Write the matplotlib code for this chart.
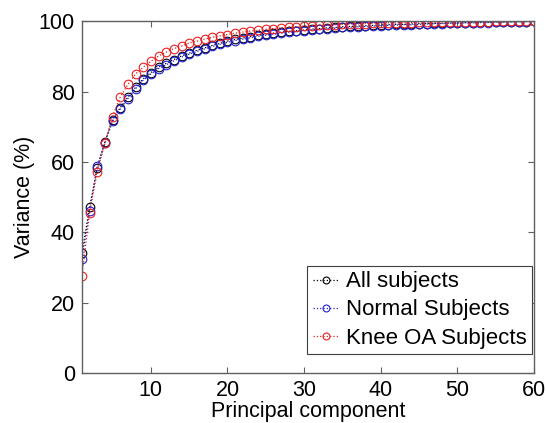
import matplotlib
matplotlib.use("Agg")
import matplotlib.pyplot as plt
import numpy as np

## 主成分编号
components = list(range(1, 61))

## 累计方差 (%)
all_subjects = [34.0, 47.1, 58.3, 65.6, 72.0, 75.4, 78.4, 81.2, 83.6, 85.4,
                86.9, 88.0, 89.1, 90.1, 90.9, 91.7, 92.4, 93.1, 93.7, 94.3,
                94.8, 95.2, 95.6, 96.0, 96.3, 96.6, 96.9, 97.1, 97.3, 97.5,
                97.7, 97.9, 98.1, 98.2, 98.4, 98.5, 98.6, 98.7, 98.8, 98.9,
                99.0, 99.1, 99.1, 99.2, 99.3, 99.3, 99.4, 99.4, 99.5, 99.5,
                99.6, 99.6, 99.7, 99.7, 99.8, 99.8, 99.8, 99.9, 99.9, 100.0]
normal_subjects = [32.3, 46.0, 58.7, 65.5, 71.5, 75.0, 78.0, 80.8, 83.2, 85.0,
                   86.5, 87.6, 88.7, 89.8, 90.6, 91.4, 92.1, 92.8, 93.4, 94.0,
                   94.5, 94.9, 95.3, 95.7, 96.0, 96.3, 96.6, 96.9, 97.1, 97.3,
                   97.5, 97.7, 97.9, 98.0, 98.2, 98.3, 98.4, 98.5, 98.6, 98.7,
                   98.8, 98.9, 99.0, 99.0, 99.1, 99.2, 99.3, 99.3, 99.4, 99.4,
                   99.5, 99.5, 99.6, 99.6, 99.7, 99.7, 99.8, 99.8, 99.9, 100.0]
knee_oa_subjects = [27.7, 45.4, 57.2, 65.3, 72.9, 78.4, 82.0, 85.0, 86.9, 88.6,
                    90.1, 91.2, 92.2, 92.9, 93.8, 94.3, 94.9, 95.4, 95.8, 96.2,
                    96.6, 96.9, 97.2, 97.4, 97.7, 97.9, 98.1, 98.3, 98.4, 98.6,
                    98.7, 98.8, 98.9, 99.0, 99.1, 99.2, 99.2, 99.3, 99.4, 99.4,
                    99.5, 99.5, 99.6, 99.6, 99.7, 99.7, 99.7, 99.8, 99.8, 99.8,
                    99.9, 99.9, 99.9, 99.9, 100.0, 100.0, 100.0, 100.0, 100.0, 100.0]

series = [
    ("All subjects", all_subjects, "black"),
    ("Normal Subjects", normal_subjects, "#2020d0"),
    ("Knee OA Subjects", knee_oa_subjects, "#e82020"),
]

plt.rcParams['font.family'] = ['Liberation Sans', 'DejaVu Sans']

fig = plt.figure(figsize=(5.46, 4.23), dpi=100)
ax = fig.add_axes([0.150, 0.118, 0.828, 0.832])

## 逐条画出
for name, vals, col in series:
    ax.plot(components, vals, linestyle=":", linewidth=0.9, color=col,
            marker="o", markersize=6.2, markerfacecolor="none",
            markeredgecolor=col, markeredgewidth=0.8, label=name)

ax.set_xlim(1, 60)
ax.set_ylim(0, 100)
ax.set_xticks([10, 20, 30, 40, 50, 60])
ax.set_yticks([0, 20, 40, 60, 80, 100])

for s in ax.spines.values():
    s.set_color("#606060")
    s.set_linewidth(1.0)
ax.tick_params(direction="in", length=4, width=0.8, color="#606060",
               top=True, right=True, labelsize=15.5, pad=5)

ax.set_xlabel("Principal component", fontsize=15.5, labelpad=0)
ax.set_ylabel("Variance (%)", fontsize=15.5, labelpad=3)

leg = ax.legend(loc="lower right", bbox_to_anchor=(0.996, 0.054),
                borderaxespad=0, fontsize=16, fancybox=False,
                handlelength=1.2, handletextpad=0.3, labelspacing=0.32,
                borderpad=0.25, framealpha=1, markerscale=0.8)
leg.get_frame().set_edgecolor("#404040")
leg.get_frame().set_linewidth(0.8)

fig.savefig("out.png", dpi=100)
